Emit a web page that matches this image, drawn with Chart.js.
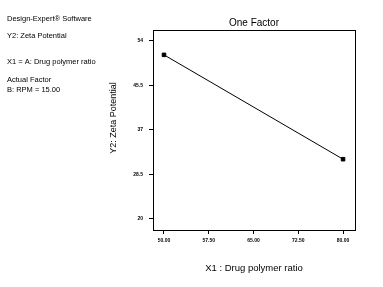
<!DOCTYPE html>
<html lang="en">
<head>
  <meta charset="UTF-8">
  <title>One Factor</title>
  <script src="https://cdn.jsdelivr.net/npm/chart.js"></script>
  <style>
    body { margin: 0; background: #fff; }
    #wrap { position: relative; width: 383px; height: 287px; }
  </style>
</head>
<body>
  <div id="wrap"><canvas id="factorChart" width="383" height="287"></canvas></div>

  <script>
    // values
    const xValues = [50, 80];
    const zetaValues = [51.3, 31.4];
    const xTicks = [50, 57.5, 65, 72.5, 80];
    const yTicks = [20, 28.5, 37, 45.5, 54];
    const infoLines = [
      ['Design-Expert\u00ae Software', 19],
      ['Y2: Zeta Potential', 35.5],
      ['X1 = A: Drug polymer ratio', 62],
      ['Actual Factor', 79.5],
      ['B: RPM = 15.00', 89.5]
    ];

    const FONT = '"Liberation Sans", Arial, sans-serif';

    const extras = {
      id: 'extras',
      afterDraw(chart) {
        const c = chart.ctx;
        const a = chart.chartArea;
        c.save();
        c.strokeStyle = '#000';
        c.lineWidth = 1;
        c.strokeRect(a.left + 0.5, a.top + 0.5, a.right - a.left, a.bottom - a.top);

        c.fillStyle = '#000';
        c.font = '7.5px ' + FONT;
        c.textBaseline = 'middle';
        c.textAlign = 'left';
        infoLines.forEach(([txt, y]) => c.fillText(txt, 7, y));

        // chart title, centred over the plot box
        c.font = '10px ' + FONT;
        c.textAlign = 'center';
        c.fillText('One Factor', (a.left + a.right) / 2, 23);

        c.font = '9px ' + FONT;
        c.translate(114, 118);
        c.rotate(-Math.PI / 2);
        c.fillText('Y2: Zeta Potential', 0, 0);
        c.restore();
      }
    };

    new Chart(document.getElementById('factorChart'), {
      type: 'scatter',
      data: {
        datasets: [{
          data: xValues.map((x, i) => ({ x: x, y: zetaValues[i] })),
          showLine: true,
          borderColor: '#000',
          backgroundColor: '#000',
          borderWidth: 1,
          pointStyle: 'rect',
          pointRadius: 2.5
        }]
      },
      options: {
        responsive: false,
        animation: false,
        layout: { padding: { left: 0, right: 28, top: 30, bottom: 0 } },
        plugins: {
          legend: { display: false },
          tooltip: { enabled: false }
        },
        scales: {
          x: {
            type: 'linear',
            min: 48.16,
            max: 82.0,
            afterBuildTicks: s => { s.ticks = xTicks.map(v => ({ value: v })); },
            afterFit: s => { s.height = 57; },
            ticks: {
              color: '#000',
              padding: 4,
              font: { family: FONT, size: 5, weight: 'bold' },
              callback: v => v.toFixed(2)
            },
            grid: { drawOnChartArea: false, tickLength: 4, color: '#000' },
            border: { display: true, color: '#000' },
            title: {
              display: true,
              text: 'X1 : Drug polymer ratio',
              color: '#000',
              font: { family: FONT, size: 9.5 },
              padding: { top: 0, bottom: 13.3 }
            }
          },
          y: {
            type: 'linear',
            min: 17.9,
            max: 56.04,
            afterBuildTicks: s => { s.ticks = yTicks.map(v => ({ value: v })); },
            afterFit: s => { s.width = 153; },
            ticks: {
              color: '#000',
              padding: 6,
              font: { family: FONT, size: 5, weight: 'bold' },
              callback: v => String(v)
            },
            grid: { drawOnChartArea: false, tickLength: 4, color: '#000' },
            border: { display: true, color: '#000' }
          }
        }
      },
      plugins: [extras]
    });
  </script>
</body>
</html>
